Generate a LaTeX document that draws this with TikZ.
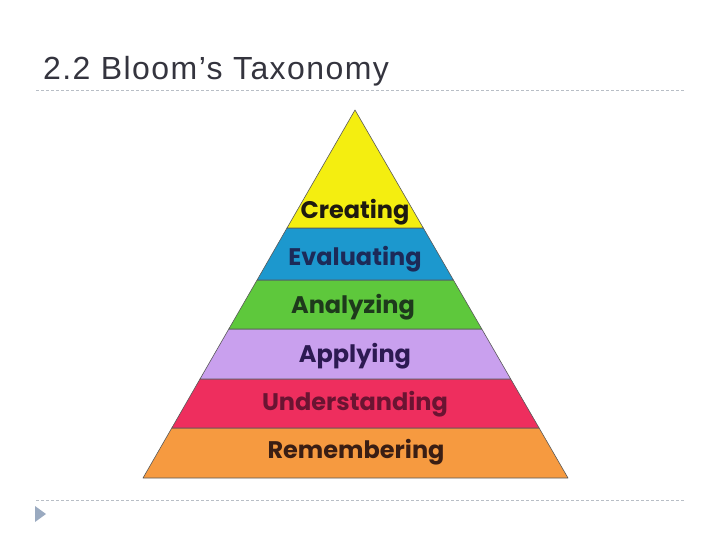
\documentclass[tikz,border=0pt]{standalone}
\usepackage{fontspec}
\setmainfont{Liberation Sans}
\newfontfamily\pyrfont{Poppins}[UprightFont=* SemiBold, BoldFont=* Bold]
\definecolor{titlegray}{HTML}{34343E}
\definecolor{dashgray}{HTML}{B8BEC6}
\definecolor{tri}{HTML}{9AAAC0}
\definecolor{cyel}{HTML}{F4EE10}
\definecolor{cblu}{HTML}{1C98CE}
\definecolor{cgrn}{HTML}{5EC83C}
\definecolor{clil}{HTML}{C9A0EE}
\definecolor{cpnk}{HTML}{EE2E5E}
\definecolor{corg}{HTML}{F69A40}
\definecolor{tblk}{HTML}{1E1A10}
\definecolor{tnav}{HTML}{1C2A58}
\definecolor{tgrn}{HTML}{1E3A1C}
\definecolor{tpur}{HTML}{2C1A52}
\definecolor{tred}{HTML}{6A1432}
\definecolor{tbrn}{HTML}{3A1E14}
\tikzset{
  band/.style={draw=black!65, line width=0.6pt, line join=round},
  lbl/.style={font=\pyrfont\bfseries\fontsize{24}{24}\selectfont, inner sep=0pt},
  rule/.style={draw=dashgray, dash pattern=on 3pt off 2pt, line width=0.6pt}
}
\begin{document}
\begin{tikzpicture}[x=1pt,y=-1pt]
\useasboundingbox (0,0) rectangle (720,540);
\node[anchor=base west, inner sep=0pt, text=titlegray, font=\fontsize{32}{32}\selectfont\addfontfeature{LetterSpace=4.5}] (title) at (43,80) {2.2 Bloom’s Taxonomy};
\coordinate (r1a) at (36,90); \coordinate (r1b) at (685,90);
\draw[rule] (r1a) -- (r1b);
\coordinate (r2a) at (36,500); \coordinate (r2b) at (685,500);
\draw[rule] (r2a) -- (r2b);
\fill[tri] (35,506) -- (46,514) -- (35,522) -- cycle;
% bands
\filldraw[band, fill=corg] (171.8,428) -- (539.1,428) -- (568,478) -- (143,478) -- cycle;
\filldraw[band, fill=cpnk] (200.0,379) -- (510.7,379) -- (539.1,428) -- (171.8,428) -- cycle;
\filldraw[band, fill=clil] (228.8,329) -- (481.8,329) -- (510.7,379) -- (200.0,379) -- cycle;
\filldraw[band, fill=cgrn] (257.1,280) -- (453.4,280) -- (481.8,329) -- (228.8,329) -- cycle;
\filldraw[band, fill=cblu] (287.0,228) -- (423.3,228) -- (453.4,280) -- (257.1,280) -- cycle;
\filldraw[band, fill=cyel] (355,110) -- (423.3,228) -- (287.0,228) -- cycle;
\node[lbl, text=tblk] (creating) at (355,212) {Creating};
\node[lbl, text=tnav] (evaluating) at (355,259) {Evaluating};
\node[lbl, text=tgrn] (analyzing) at (353,307) {Analyzing};
\node[lbl, text=tpur] (applying) at (355,356) {Applying};
\node[lbl, text=tred] (understanding) at (355,404) {Understanding};
\node[lbl, text=tbrn] (remembering) at (356,452) {Remembering};
\end{tikzpicture}
\end{document}
